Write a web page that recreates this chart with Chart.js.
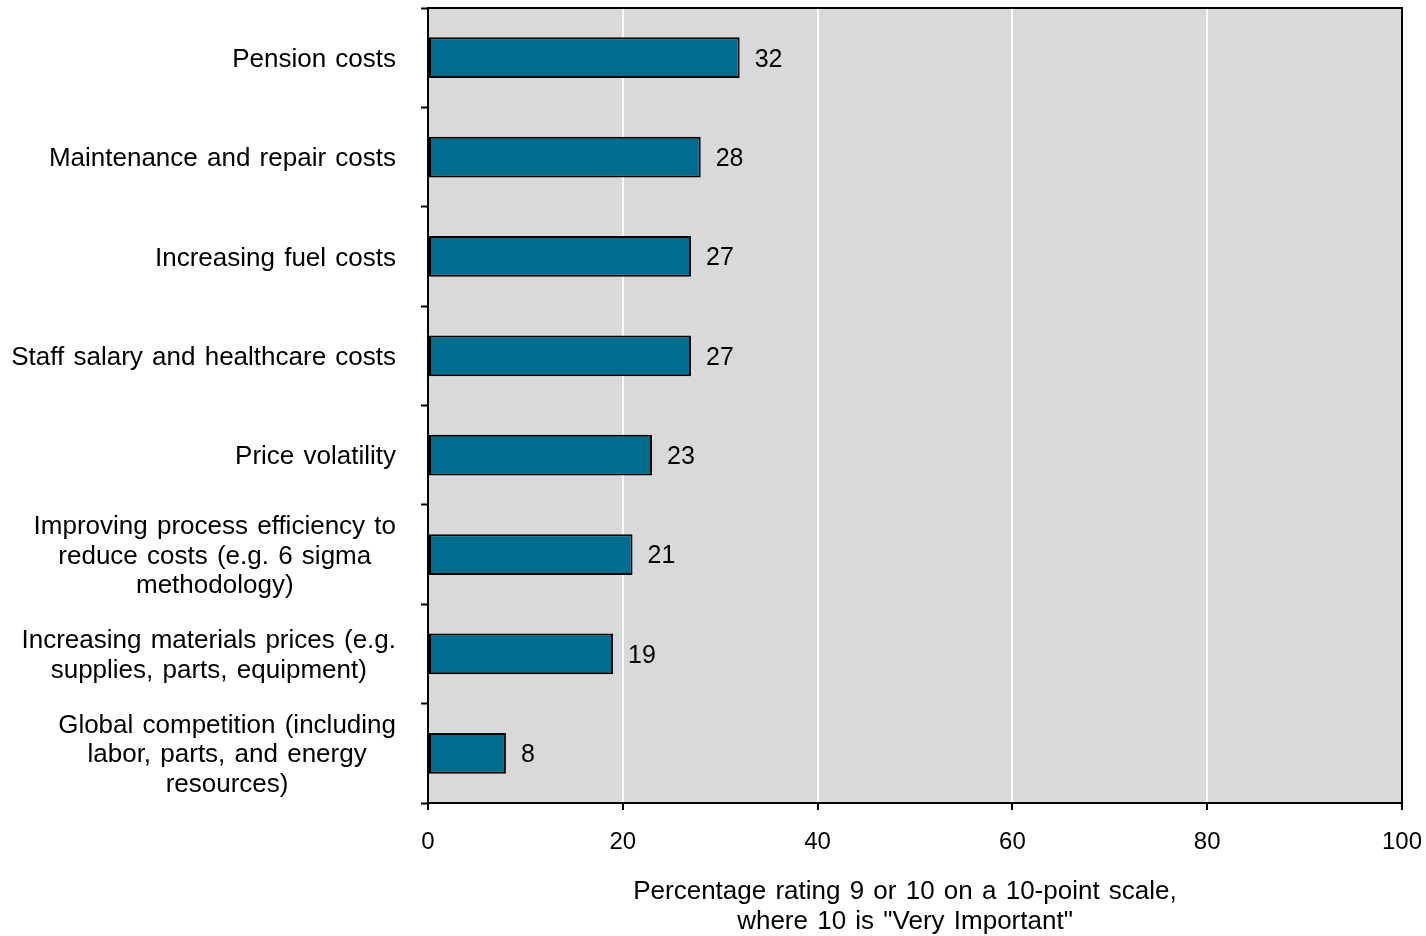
<!DOCTYPE html>
<html>
<head>
<meta charset="utf-8">
<script src="https://cdn.jsdelivr.net/npm/chart.js@4"></script>
<style>
  html, body { margin: 0; padding: 0; background: #ffffff; }
  #wrap { width: 1426px; height: 936px; }
</style>
</head>
<body>
<div id="wrap"><canvas id="costChart" width="1426" height="936"></canvas></div>
<script>
// Category labels (multi-line ones as arrays)
var categories = [
    ['Pension costs'],
    ['Maintenance and repair costs'],
    ['Increasing fuel costs'],
    ['Staff salary and healthcare costs'],
    ['Price volatility'],
    ['Improving process efficiency to', 'reduce costs (e.g. 6 sigma', 'methodology)'],
    ['Increasing materials prices (e.g.', 'supplies, parts, equipment)'],
    ['Global competition (including', 'labor, parts, and energy', 'resources)']
];
var values = [32, 28, 27, 27, 23, 21, 19, 8];
var xTicks = [0, 20, 40, 60, 80, 100];
var axisTitle = ['Percentage rating 9 or 10 on a 10-point scale,', 'where 10 is "Very Important"'];

var FONT = '"Liberation Sans", Arial, sans-serif';

// Grey plot background plus black frame on top / right
var plotFrame = {
    id: 'plotFrame',
    beforeDraw: function (chart) {
        var a = chart.chartArea, ctx = chart.ctx;
        ctx.save();
        ctx.fillStyle = '#d9d9d9';
        ctx.fillRect(a.left, a.top, a.right - a.left, a.bottom - a.top);
        ctx.restore();
    },
    afterDatasetsDraw: function (chart) {
        var a = chart.chartArea, ctx = chart.ctx;
        ctx.save();
        ctx.strokeStyle = '#000';
        ctx.lineWidth = 2;
        ctx.beginPath();
        ctx.moveTo(a.left, a.top);
        ctx.lineTo(a.right, a.top);
        ctx.lineTo(a.right, a.bottom);
        ctx.stroke();
        ctx.restore();
    }
};

// Category labels: each block right-aligned, lines centred inside it
var categoryLabels = {
    id: 'categoryLabels',
    afterDraw: function (chart) {
        var y = chart.scales.y, ctx = chart.ctx;
        var rightEdge = 396, lineH = 29.5;
        ctx.save();
        ctx.font = '26px ' + FONT;
        ctx.wordSpacing = '2px';
        ctx.fillStyle = '#000';
        ctx.textAlign = 'center';
        ctx.textBaseline = 'middle';
        categories.forEach(function (lines, i) {
            var widest = 0;
            lines.forEach(function (l) { widest = Math.max(widest, ctx.measureText(l).width); });
            var cx = rightEdge - widest / 2;
            var cy = y.getPixelForValue(i) + 2;
            var startY = cy - (lines.length - 1) * lineH / 2;
            lines.forEach(function (l, k) {
                ctx.fillText(l, cx, startY + k * lineH);
            });
        });
        ctx.restore();
    }
};

// Value labels to the right of each bar
var valueLabels = {
    id: 'valueLabels',
    afterDatasetsDraw: function (chart) {
        var ctx = chart.ctx;
        var meta = chart.getDatasetMeta(0);
        ctx.save();
        ctx.font = '25px ' + FONT;
        ctx.fillStyle = '#000';
        ctx.textAlign = 'left';
        ctx.textBaseline = 'middle';
        meta.data.forEach(function (bar, i) {
            ctx.fillText(String(values[i]), bar.x + 15, bar.y + 2);
        });
        ctx.restore();
    }
};

// Axis title under the x axis
var xTitle = {
    id: 'xTitle',
    afterDraw: function (chart) {
        var ctx = chart.ctx;
        ctx.save();
        ctx.font = '26px ' + FONT;
        ctx.wordSpacing = '2px';
        ctx.fillStyle = '#000';
        ctx.textAlign = 'center';
        ctx.textBaseline = 'middle';
        axisTitle.forEach(function (l, k) {
            ctx.fillText(l, 905, 892 + k * 30);
        });
        ctx.restore();
    }
};

new Chart(document.getElementById('costChart'), {
    type: 'bar',
    data: {
        labels: categories,
        datasets: [{
            data: values,
            backgroundColor: '#006c8e',
            borderColor: '#000',
            borderWidth: 2,
            borderSkipped: false,
            categoryPercentage: 1.0,
            barPercentage: 0.41
        }]
    },
    options: {
        indexAxis: 'y',
        responsive: false,
        animation: false,
        layout: { padding: { top: 8, right: 24, left: 0, bottom: 0 } },
        plugins: {
            legend: { display: false },
            tooltip: { enabled: false }
        },
        scales: {
            x: {
                min: 0,
                max: 100,
                afterBuildTicks: function (scale) {
                    scale.ticks = xTicks.map(function (v) { return { value: v }; });
                },
                afterFit: function (scale) {
                    scale.height = 133;
                    scale.paddingLeft = 0;
                    scale.paddingRight = 0;
                },
                grid: {
                    color: function (c) { return c.tick && c.tick.value === 0 ? 'rgba(0,0,0,0)' : '#ffffff'; },
                    lineWidth: 2,
                    tickColor: '#000',
                    tickLength: 7,
                    tickWidth: 2
                },
                border: { display: true, color: '#000', width: 2 },
                ticks: {
                    color: '#000',
                    font: { family: FONT, size: 24 },
                    padding: 18,
                    maxRotation: 0
                }
            },
            y: {
                afterFit: function (scale) {
                    scale.width = 428;
                    scale.paddingTop = 0;
                    scale.paddingBottom = 0;
                },
                grid: {
                    offset: true,
                    drawOnChartArea: false,
                    tickColor: '#000',
                    tickLength: 7,
                    tickWidth: 2
                },
                border: { display: true, color: '#000', width: 2 },
                ticks: { display: false }
            }
        }
    },
    plugins: [plotFrame, categoryLabels, valueLabels, xTitle]
});
</script>
</body>
</html>
